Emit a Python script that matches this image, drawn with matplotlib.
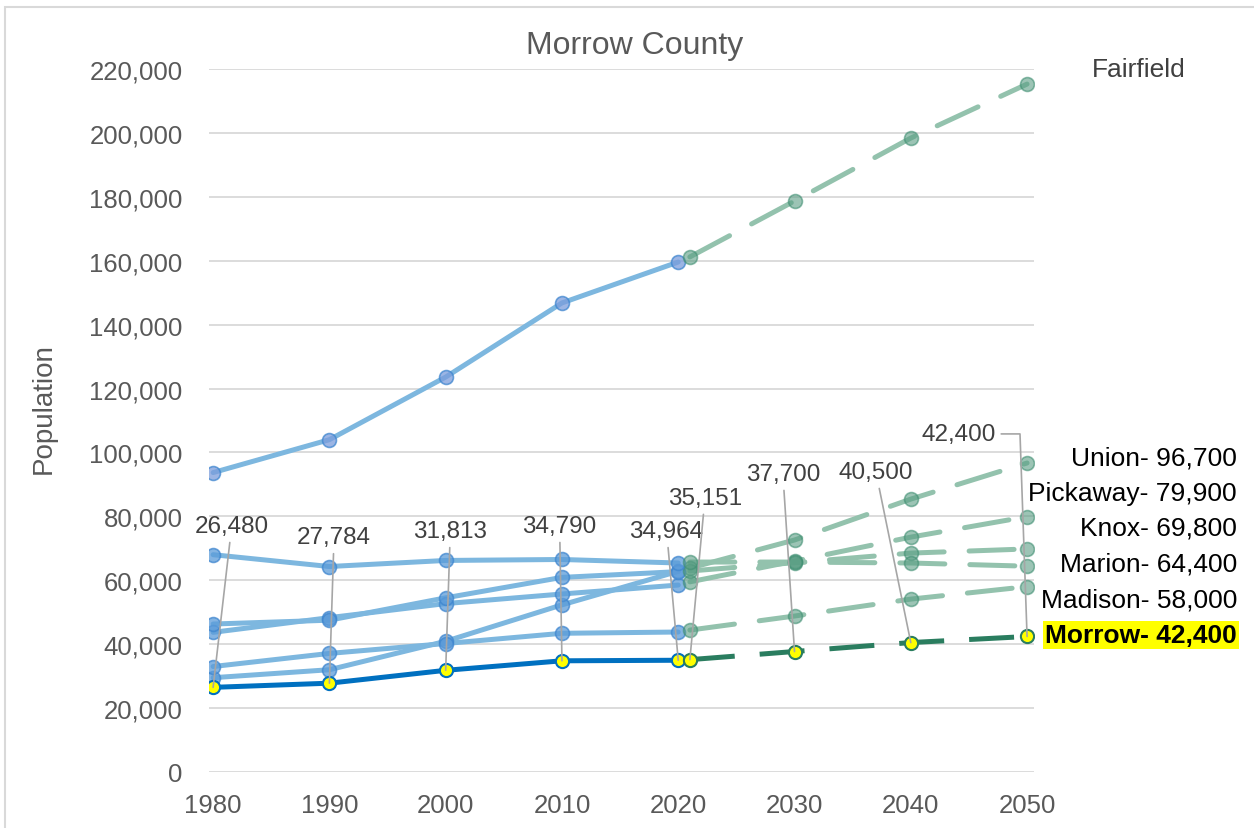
import numpy as np
import matplotlib.pyplot as plt
from matplotlib.patches import Rectangle
from matplotlib.ticker import FuncFormatter

plt.rcParams['font.family'] = ['Liberation Sans', 'DejaVu Sans']

years_hist = [1980, 1990, 2000, 2010, 2020]
years_proj = [2021, 2030, 2040, 2050]

counties = ["Fairfield", "Union", "Pickaway", "Knox", "Marion", "Madison"]
hist = {
    "Fairfield": [93700, 104000, 123600, 146800, 159600],
    "Union": [29500, 32000, 40900, 52300, 62800],
    "Pickaway": [43700, 48300, 52700, 55700, 58500],
    "Knox": [46300, 47500, 54500, 60900, 62700],
    "Marion": [68000, 64300, 66200, 66500, 65400],
    "Madison": [33000, 37100, 40200, 43400, 43800],
}
proj = {
    "Fairfield": [161200, 178700, 198400, 215300],
    "Union": [63800, 72600, 85400, 96700],
    "Pickaway": [59500, 66000, 73500, 79900],
    "Knox": [62900, 65500, 68500, 69800],
    "Marion": [65700, 65700, 65400, 64400],
    "Madison": [44400, 48800, 54100, 58000],
}
morrow_hist = [26480, 27784, 31813, 34790, 34964]
morrow_proj = [35151, 37700, 40500, 42400]

# label text positions for Morrow values (year, value)
hist_label_pos = [(1981.6, 77000), (1990.4, 73500), (2000.4, 75400), (2009.8, 77000), (2019.0, 75400)]
proj_label_pos = [(2022.3, 85800), (2029.0, 93300), (2037.0, 93900), (2044.1, 105800)]

right_labels = ["Union", "Pickaway", "Knox", "Marion", "Madison"]
right_label_y = [0.4475, 0.4045, 0.3624, 0.3188, 0.2757]

fig = plt.figure(figsize=(12.54, 8.29), dpi=100)
ax = fig.add_axes([0.1667, 0.0676, 0.6579, 0.8479])

light_blue = '#7db7df'
blue_mk = '#5b9bd9'
light_green = '#93c2ad'
green_mk = '#5a9e84'

for c in counties:
    mk = '#7b9ddc' if c == "Fairfield" else blue_mk
    ax.plot(years_hist, hist[c], color=light_blue, lw=3.6, solid_capstyle='round', zorder=2)
    ax.plot(years_hist, hist[c], ls='none', marker='o', ms=10, mfc=mk, mec='#3f86cf', mew=1.2,
            alpha=0.75, zorder=3)
    ax.plot(years_proj, proj[c], color=light_green, lw=3.6, dashes=(9, 5), dash_capstyle='round',
            zorder=2)
    ax.plot(years_proj, proj[c], ls='none', marker='o', ms=10, mfc=green_mk, mec='#3f8f72', mew=1.2,
            alpha=0.6, zorder=3)

ax.plot(years_hist, morrow_hist, color='#0070c0', lw=3.6, marker='o', ms=9.5,
        mfc='#ffff00', mec='#0070c0', mew=1.5, zorder=5)
ax.plot(years_proj, morrow_proj, color='#2a7d5f', lw=3.6, dashes=(9, 5), zorder=5)
ax.plot(years_proj, morrow_proj, ls='none', marker='o', ms=9.5, mfc='#ffff00', mec='#2a7d5f',
        mew=1.5, zorder=6)

lab_fs = 17.5
lead = dict(arrowstyle='-', color='#a6a6a6', lw=1.2, shrinkA=2, shrinkB=0)
for (x, y), (tx, ty) in zip(zip(years_hist, morrow_hist), hist_label_pos):
    ax.annotate(f"{y:,}", xy=(x, y), xytext=(tx, ty), ha='center', va='center', fontsize=lab_fs,
                color='#404040', arrowprops=lead, zorder=7)
for i, ((x, y), (tx, ty)) in enumerate(zip(zip(years_proj, morrow_proj), proj_label_pos)):
    if i == 3:
        ax.annotate(f"{y:,}", xy=(x, y), xytext=(tx, ty), ha='center', va='center', fontsize=lab_fs,
                    color='#404040', zorder=7,
                    arrowprops=dict(arrowstyle='-', color='#a6a6a6', lw=1.2, shrinkA=2, shrinkB=0,
                                    connectionstyle='angle,angleA=0,angleB=92,rad=0'))
    else:
        ax.annotate(f"{y:,}", xy=(x, y), xytext=(tx, ty), ha='center', va='center', fontsize=lab_fs,
                    color='#404040', arrowprops=lead, zorder=7)

ax.set_xlim(1979.65, 2050.6)
ax.set_ylim(0, 220000)
ax.set_xticks(np.arange(1980, 2051, 10))
ax.set_yticks(np.arange(0, 220001, 20000))
ax.yaxis.set_major_formatter(FuncFormatter(lambda v, p: f"{int(v):,}"))
ax.grid(axis='y', color='#d9d9d9', lw=1.3)
ax.set_axisbelow(True)
for s in ax.spines.values():
    s.set_visible(False)
ax.tick_params(length=0, labelsize=18.5, labelcolor='#595959')
ax.tick_params(axis='x', pad=15)
ax.tick_params(axis='y', pad=19)
ax.set_ylabel("Population", fontsize=20, color='#595959')
ax.yaxis.set_label_coords(-0.184, 0.519)

fig.text(0.5064, 0.944, "Morrow County", ha='center', va='center', fontsize=23, color='#595959')
fig.text(0.908, 0.915, "Fairfield", ha='center', va='center', fontsize=19, color='#404040')
for name, yy in zip(right_labels, right_label_y):
    fig.text(0.9865, yy, f"{name}- {proj[name][-1]:,}", ha='right', va='center', fontsize=19,
             color='black')
fig.text(0.9865, 0.2328, f"Morrow- {morrow_proj[-1]:,}", ha='right', va='center', fontsize=19,
         fontweight='bold', color='black',
         bbox=dict(boxstyle='square,pad=0.08', fc='#ffff00', ec='none'))

fig.patches.append(Rectangle((0.004, -0.01), 1.1, 1.0, transform=fig.transFigure, fill=False,
                             ec='#d9d9d9', lw=1.5))

fig.savefig("out.png", dpi=100)
